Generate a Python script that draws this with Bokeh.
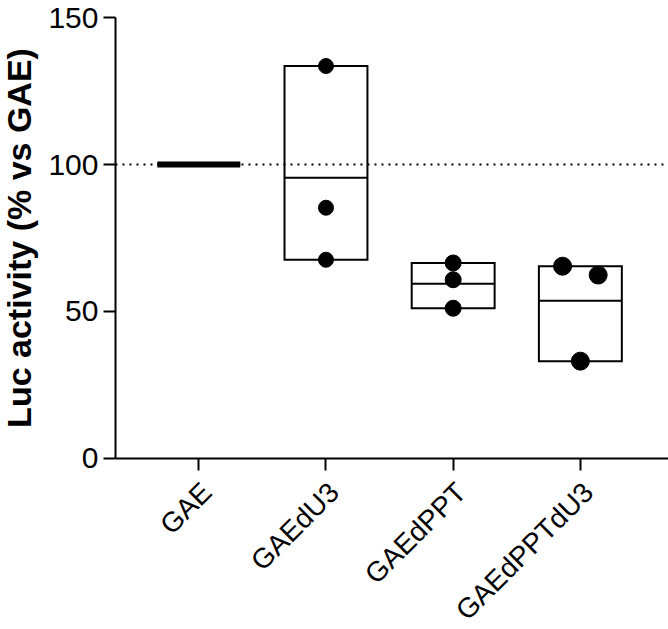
from math import pi
from bokeh.plotting import figure
from bokeh.models import Range1d, FixedTicker, ColumnDataSource, LabelSet
from bokeh.core.properties import value
from bokeh.embed import file_html
from bokeh.resources import INLINE

# ---- data ----
categories = ["GAE", "GAEdU3", "GAEdPPT", "GAEdPPTdU3"]
gae = [100.0, 100.0, 100.0]
gae_du3 = [133.5, 85.3, 67.6]
gae_dppt = [66.5, 60.8, 51.1]
gae_dppt_du3 = [65.4, 62.4, 33.1]
reference_level = 100
y_ticks = [0, 50, 100, 150]
y_label = "Luc activity (% vs GAE)"

groups = [gae, gae_du3, gae_dppt, gae_dppt_du3]

# horizontal scatter of points within each group (as in the reference)
jitter = [[0, 0, 0], [0, 0, 0], [0, 0, 0], [-0.14, 0.14, 0.0]]
point_sizes = [15, 15, 16, 18]

FONT = "Liberation Sans"
half = 0.326

# visible axis extents (data units)
X_LEFT, X_RIGHT = 0.345, 4.693
Y_BOTTOM, Y_TOP = 0, 150

p = figure(width=668, height=629,
           x_range=Range1d(-0.559, X_RIGHT), y_range=Range1d(-58.2, 155.8),
           output_backend="svg", toolbar_location=None,
           min_border_left=0, min_border_right=0, min_border_top=0,
           min_border_bottom=0)
p.outline_line_color = None
p.xgrid.visible = False
p.ygrid.visible = False
p.background_fill_color = "white"
p.border_fill_color = "white"

# dotted reference line from the y axis to the right end
p.segment(x0=[X_LEFT], x1=[X_RIGHT], y0=[reference_level], y1=[reference_level],
          line_color="black", line_width=2, line_dash="2 5")

xs = list(range(1, len(categories) + 1))
mins = [min(g) for g in groups]
maxs = [max(g) for g in groups]
means = [sum(g) / len(g) for g in groups]

box_src = ColumnDataSource(dict(
    left=[x - half for x in xs], right=[x + half for x in xs],
    bottom=mins, top=maxs, mean=means,
    lw=[6 if mx == mn else 2 for mn, mx in zip(mins, maxs)],
))
p.quad(left="left", right="right", bottom="bottom", top="top", source=box_src,
       fill_color=None, line_color="black", line_width=2, line_join="miter")
p.segment(x0="left", x1="right", y0="mean", y1="mean", source=box_src,
          line_color="black", line_width="lw")

# individual points (not drawn for GAE, which is the normalisation reference)
px, py, ps = [], [], []
for i, g in enumerate(groups):
    if i == 0:
        continue
    for v, j in zip(g, jitter[i]):
        px.append(xs[i] + j)
        py.append(v)
        ps.append(point_sizes[i])
p.scatter(x=px, y=py, size=ps, marker="circle", fill_color="black",
          line_color="black")

# axes
for ax in (p.xaxis, p.yaxis):
    ax.axis_line_width = 2
    ax.axis_line_color = "black"
    ax.major_tick_line_width = 2
    ax.major_tick_line_color = "black"
    ax.major_tick_out = 12
    ax.major_tick_in = 0
    ax.minor_tick_line_color = None
    ax.major_label_text_font = FONT
    ax.major_label_text_color = "black"

p.yaxis.fixed_location = X_LEFT
p.yaxis.ticker = FixedTicker(ticks=y_ticks)
p.yaxis.bounds = (Y_BOTTOM, Y_TOP)
p.yaxis.major_label_text_font_size = "30px"
p.yaxis.major_label_standoff = 5
p.yaxis.axis_label = y_label
p.yaxis.axis_label_text_font = FONT
p.yaxis.axis_label_text_font_style = "bold"
p.yaxis.axis_label_text_font_size = "34px"
p.yaxis.axis_label_text_color = "black"
p.yaxis.axis_label_standoff = 7

# category ticks; the rotated category names are drawn as a label set
p.xaxis.fixed_location = Y_BOTTOM
p.xaxis.bounds = (X_LEFT, X_RIGHT)
p.xaxis.ticker = FixedTicker(ticks=xs)
p.xaxis.major_label_overrides = {x: "" for x in xs}
p.xaxis.major_label_text_font_size = "1px"

lab_src = ColumnDataSource(dict(x=xs, y=[Y_BOTTOM] * len(xs), text=categories))
p.add_layout(LabelSet(x="x", y="y", text="text", source=lab_src,
                      x_offset=8, y_offset=-29, angle=pi / 4,
                      text_align="right", text_baseline="middle",
                      text_font=value(FONT), text_font_size=value("28px"),
                      text_color="black"))

open("out.html", "w").write(file_html(p, INLINE))
